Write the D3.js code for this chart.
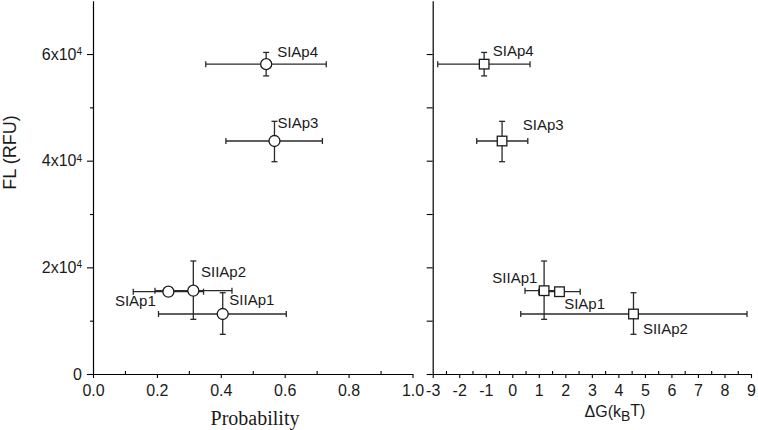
<!DOCTYPE html>
<html><head><meta charset="utf-8">
<script src="https://cdn.jsdelivr.net/npm/d3@7/dist/d3.min.js"></script>
<style>body{margin:0;background:#fff}svg{display:block}</style>
</head><body>
<svg id="c" width="758" height="430"></svg>
<script>
// ---- data ----
const leftLabels = ["SIAp1", "SIIAp1", "SIIAp2", "SIAp3", "SIAp4"];
const probX   = [0.236, 0.406, 0.314, 0.568, 0.542];
const probXLo = [0.126, 0.205, 0.194, 0.416, 0.353];
const probXHi = [0.346, 0.605, 0.435, 0.718, 0.730];
const flLeft   = [15430, 11250, 15620, 43690, 58100];
const flLeftLo = [15430, 7440, 10250, 39810, 55900];
const flLeftHi = [15430, 15240, 21190, 47380, 60300];

const rightLabels = ["SIAp1", "SIIAp1", "SIIAp2", "SIAp3", "SIAp4"];
const dG   = [1.78, 1.2, 4.57, -0.385, -1.06];
const dGLo = [1.0, 0.48, 0.32, -1.34, -2.81];
const dGHi = [2.56, 1.92, 8.85, 0.585, 0.67];
const flRight   = [15430, 15620, 11250, 43690, 58100];
const flRightLo = [15430, 10250, 7440, 39810, 55900];
const flRightHi = [15430, 21190, 15240, 47380, 60300];

const yTicks = [0, 20000, 40000, 60000];
const yMinorLeft = [10000, 30000, 50000];
const yTicksRight = [0, 10000, 20000, 30000, 40000, 50000, 60000];
const probTicks = [0, 0.2, 0.4, 0.6, 0.8, 1.0];
const probMinor = [0.1, 0.3, 0.5, 0.7, 0.9];
const dGTicks = [-3, -2, -1, 0, 1, 2, 3, 4, 5, 6, 7, 8, 9];
const dGMinor = [-2.5, -1.5, -0.5, 0.5, 1.5, 2.5, 3.5, 4.5, 5.5, 6.5, 7.5, 8.5];

// label placement (pixel offsets from point), kept separate from data
const leftLabelPos = {
  "SIAp1": [-12.6, 14.3, "end"], "SIIAp1": [6.6, -9, "start"], "SIIAp2": [7.7, -14, "start"],
  "SIAp3": [3, -12.7, "start"], "SIAp4": [11, -7, "start"]
};
const rightLabelPos = {
  "SIAp1": [4.7, 17.3, "start"], "SIIAp1": [-6.7, -7.4, "end"], "SIIAp2": [9.4, 20, "start"],
  "SIAp3": [20.7, -10.6, "start"], "SIAp4": [8.7, -8.3, "start"]
};

const svg = d3.select("#c");
const SANS = "'Liberation Sans', Arial, sans-serif";
const SERIF = "'Liberation Serif', 'Times New Roman', serif";
const ERR = "#2a2a2a";

const y = d3.scaleLinear().domain([0, 70000]).range([374, 0.7]);
const xL = d3.scaleLinear().domain([0, 1]).range([93, 412.5]);
const xR = d3.scaleLinear().domain([-3, 9]).range([432.7, 751]);

function styleAxis(g) {
  g.selectAll("path.domain").attr("stroke", "#000").attr("stroke-width", 1.2);
  g.selectAll(".tick line").attr("stroke", "#000").attr("stroke-width", 1.1);
  g.selectAll("text").attr("font-family", SANS).attr("font-size", 16).attr("fill", "#1a1a1a");
}

// ---- left y axis ----
const gyL = svg.append("g").attr("transform", `translate(${xL(0)},0)`)
  .call(d3.axisLeft(y).tickValues(yTicks).tickSizeInner(6).tickSizeOuter(0).tickPadding(5)
    .tickFormat(() => ""));
styleAxis(gyL);
gyL.selectAll(".tick text").each(function(d) {
  const t = d3.select(this);
  if (d === 0) { t.text("0"); return; }
  t.append("tspan").text((d / 10000) + "x10");
  t.append("tspan").attr("dy", "-0.45em").attr("font-size", 10).text("4");
});
svg.append("g").attr("transform", `translate(${xL(0)},0)`)
  .call(d3.axisLeft(y).tickValues(yMinorLeft).tickSizeInner(3).tickSizeOuter(0).tickFormat(() => ""))
  .call(g => { g.select("path.domain").remove(); g.selectAll("line").attr("stroke", "#000").attr("stroke-width", 1.1); });

// ---- right y axis ----
const gyR = svg.append("g").attr("transform", `translate(${xR(-3)},0)`)
  .call(d3.axisLeft(y).tickValues(yTicksRight).tickSizeInner(6).tickSizeOuter(0).tickFormat(() => ""));
styleAxis(gyR);

// ---- x axes ----
function xAxis(scale, major, minor, fmt) {
  const g = svg.append("g").attr("transform", "translate(0,374)")
    .call(d3.axisBottom(scale).tickValues(major).tickSizeInner(4).tickSizeOuter(0).tickPadding(6.6).tickFormat(fmt));
  styleAxis(g);
  svg.append("g").attr("transform", "translate(0,374)")
    .call(d3.axisBottom(scale).tickValues(minor).tickSizeInner(-3).tickSizeOuter(0).tickFormat(() => ""))
    .call(g2 => { g2.select("path.domain").remove(); g2.selectAll("line").attr("stroke", "#000").attr("stroke-width", 1.1); });
}
xAxis(xL, probTicks, probMinor, d => d.toFixed(1));
xAxis(xR, dGTicks, dGMinor, d => String(d));

// ---- axis titles ----
svg.append("text").attr("transform", "translate(16,152.5) rotate(-90)")
  .attr("text-anchor", "middle").attr("font-family", SANS).attr("font-size", 18).attr("fill", "#1a1a1a")
  .text("FL (RFU)");
svg.append("text").attr("x", 255).attr("y", 425).attr("text-anchor", "middle")
  .attr("font-family", SERIF).attr("font-size", 20).attr("fill", "#1a1a1a").text("Probability");
const dgt = svg.append("text").attr("x", 615).attr("y", 417).attr("text-anchor", "middle")
  .attr("font-family", SANS).attr("font-size", 16).attr("fill", "#1a1a1a");
dgt.append("tspan").text("\u0394G(k");
dgt.append("tspan").attr("dy", "0.3em").attr("font-size", 14).text("B");
dgt.append("tspan").attr("dy", "-0.3em").text("T)");

// ---- points ----
function panel(xs, labels, xv, xlo, xhi, yv, ylo, yhi, marker, lpos) {
  const g = svg.append("g");
  const cap = 3;
  labels.forEach((lab, i) => {
    const px = xs(xv[i]), py = y(yv[i]);
    const eg = g.append("g").attr("stroke", ERR).attr("stroke-width", 1.3).attr("fill", "none");
    eg.append("line").attr("x1", xs(xlo[i])).attr("x2", xs(xhi[i])).attr("y1", py).attr("y2", py);
    eg.append("line").attr("x1", xs(xlo[i])).attr("x2", xs(xlo[i])).attr("y1", py - cap).attr("y2", py + cap);
    eg.append("line").attr("x1", xs(xhi[i])).attr("x2", xs(xhi[i])).attr("y1", py - cap).attr("y2", py + cap);
    if (yhi[i] !== ylo[i]) {
      eg.append("line").attr("x1", px).attr("x2", px).attr("y1", y(ylo[i])).attr("y2", y(yhi[i]));
      eg.append("line").attr("x1", px - cap).attr("x2", px + cap).attr("y1", y(ylo[i])).attr("y2", y(ylo[i]));
      eg.append("line").attr("x1", px - cap).attr("x2", px + cap).attr("y1", y(yhi[i])).attr("y2", y(yhi[i]));
    }
  });
  labels.forEach((lab, i) => {
    const px = xs(xv[i]), py = y(yv[i]);
    if (marker === "circle") {
      g.append("circle").attr("cx", px).attr("cy", py).attr("r", 5.5)
        .attr("fill", "#fff").attr("stroke", "#1a1a1a").attr("stroke-width", 1.3);
    } else {
      g.append("rect").attr("x", px - 4.8).attr("y", py - 4.8).attr("width", 9.6).attr("height", 9.6)
        .attr("fill", "#fff").attr("stroke", "#1a1a1a").attr("stroke-width", 1.3);
    }
    const p = lpos[lab];
    g.append("text").attr("x", px + p[0]).attr("y", py + p[1]).attr("text-anchor", p[2])
      .attr("font-family", SANS).attr("font-size", 15).attr("fill", "#1a1a1a").text(lab);
  });
}
panel(xL, leftLabels, probX, probXLo, probXHi, flLeft, flLeftLo, flLeftHi, "circle", leftLabelPos);
panel(xR, rightLabels, dG, dGLo, dGHi, flRight, flRightLo, flRightHi, "square", rightLabelPos);
</script>
</body></html>
